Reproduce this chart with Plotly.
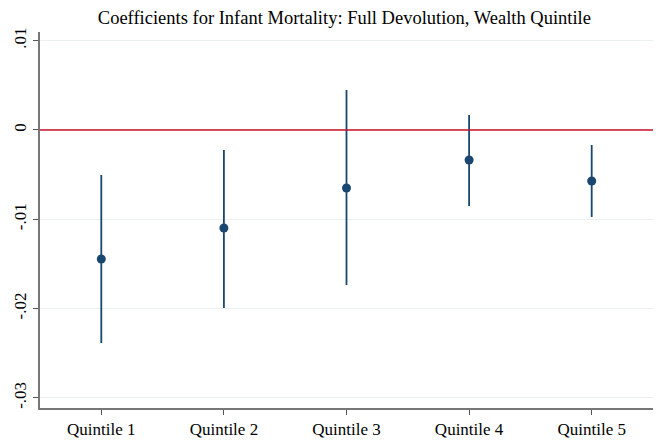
import plotly.graph_objects as go

quintiles = ['Quintile 1', 'Quintile 2', 'Quintile 3', 'Quintile 4', 'Quintile 5']
coef = [-0.01445, -0.01097, -0.0065, -0.00336, -0.00571]
ci_low = [-0.02385, -0.01993, -0.01736, -0.00851, -0.00974]
ci_high = [-0.00504, -0.00224, 0.00448, 0.00168, -0.00168]

ytick_vals = [0.01, 0, -0.01, -0.02, -0.03]
ytick_text = ['.01', '0', '-.01', '-.02', '-.03']

navy = '#1a476f'
xpos = list(range(1, len(quintiles) + 1))
serif = 'Liberation Serif'

fig = go.Figure()

# zero reference line
fig.add_shape(type='line', xref='paper', x0=0, x1=1, yref='y', y0=0, y1=0,
              line=dict(color='#c8102e', width=1.5), layer='above')

fig.add_trace(go.Scatter(
    x=xpos, y=coef, mode='markers',
    marker=dict(color=navy, size=9),
    error_y=dict(type='data', symmetric=False,
                 array=[h - c for h, c in zip(ci_high, coef)],
                 arrayminus=[c - l for c, l in zip(coef, ci_low)],
                 color=navy, thickness=1.8, width=0),
    showlegend=False,
))

# page body has an 8px margin, so the figure is sized to fit the window
fig.update_layout(
    width=657, height=435,
    margin=dict(l=32, r=12, t=24, b=35),
    plot_bgcolor='white', paper_bgcolor='white',
    font=dict(family=serif, size=17, color='black'),
    title=dict(text='Coefficients for Infant Mortality: Full Devolution, Wealth Quintile',
               x=0.512, xanchor='center', y=0.977, yanchor='middle',
               font=dict(family=serif, size=18.5)),
)
fig.update_xaxes(
    range=[0.5, 5.5], tickvals=xpos, ticktext=quintiles,
    showgrid=False, zeroline=False, automargin=False,
    showline=True, linecolor='#777777', linewidth=1.5,
    ticks='outside', ticklen=5, tickcolor='#555555',
    tickfont=dict(family=serif, size=17),
)
fig.update_yaxes(
    range=[-0.03113, 0.01097], tickvals=ytick_vals, ticktext=ytick_text,
    tickangle=-90, showgrid=True, gridcolor='#eaf0f0', gridwidth=1,
    zeroline=False, automargin=False, showline=True, linecolor='#777777', linewidth=1.5,
    ticks='outside', ticklen=5, tickcolor='#555555',
    tickfont=dict(family=serif, size=17),
)

fig.write_html('out.html')
